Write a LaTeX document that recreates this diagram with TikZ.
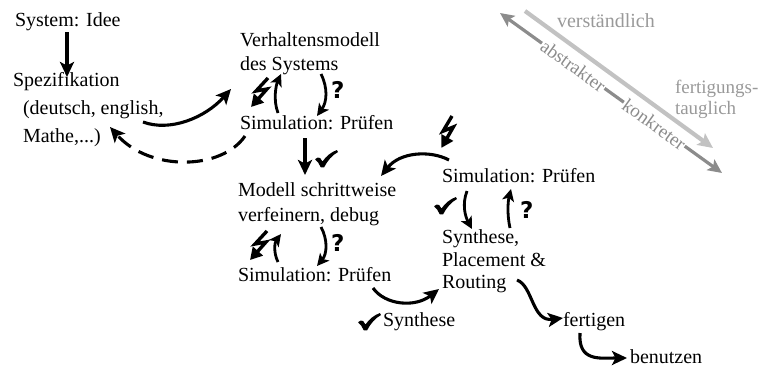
\documentclass[tikz,border=0pt]{standalone}
\usepackage{fontspec}
\setmainfont{Liberation Serif}
\newfontfamily\qfont{DejaVu Sans}
\usetikzlibrary{arrows.meta}
\definecolor{lightarr}{gray}{0.76}
\definecolor{darkarr}{gray}{0.55}
\definecolor{softtext}{gray}{0.6}
\begin{document}
\begin{tikzpicture}[x=1pt,y=-1pt,
  lbl/.style={anchor=north west, inner sep=0pt, outer sep=0pt, align=left,
              font=\fontsize{20}{24}\selectfont},
  grey/.style={inner sep=1pt, fill=white, text=darkarr, font=\fontsize{19}{20}\selectfont},
  qmark/.style={anchor=north west, inner sep=0pt, font=\qfont\bfseries\fontsize{23}{23}\selectfont},
  flow/.style={line width=3.1pt, -{Stealth[length=15pt,width=14pt,inset=3.5pt]}},
  small/.style={line width=2.8pt, -{Stealth[length=12pt,width=12pt,inset=3pt]}},
  back/.style={flow, dash pattern=on 16pt off 9pt},
  tick/.pic={\fill[scale=1.15] (0,8) .. controls (2,6.5) and (3,6) .. (4.5,7) -- (6.5,10)
             .. controls (10,5) and (14,2) .. (19,0) -- (20,1.8)
             .. controls (15,4.5) and (11,9) .. (8,15) -- (5,15)
             .. controls (4,12) and (2,10) .. (0,8) -- cycle;},
  bolt/.pic={\draw[line width=3.4pt, line join=miter, miter limit=5,
             -{Triangle[length=12pt,width=13pt]}]
             (0,0) -- (-12,13) -- (-1,11) -- (-17,29);}
]
\useasboundingbox (0,0) rectangle (767,367);

% --- text blocks ---
\node[lbl] (sys)    at (15,13)  {System: Idee};
\node[lbl] (spez)   at (13,72)  {Spezifikation\\[4pt]\hspace*{10pt}(deutsch, english,\\[4pt]\hspace*{10pt}Mathe,...)};
\node[lbl] (verh)   at (240,33) {Verhaltensmodell\\des Systems};
\node[lbl] (simA)   at (240,115) {Simulation: Prüfen};
\node[lbl] (modell) at (238,183) {Modell schrittweise\\[1pt]verfeinern, debug};
\node[lbl] (simB)   at (238,267) {Simulation: Prüfen};
\node[lbl] (simC)   at (442,168) {Simulation: Prüfen};
\node[lbl, font=\fontsize{20}{22.5}\selectfont] (spr) at (442,230) {Synthese,\\Placement \&\\Routing};
\node[lbl] (fert)   at (563,312) {fertigen};
\node[lbl] (ben)    at (630,350) {benutzen};
\node[lbl] (syn)    at (383,313) {Synthese};

% --- question marks and ticks ---
\node[qmark] (qA) at (331,81)  {?};
\node[qmark] (qB) at (331,234) {?};
\node[qmark] (qC) at (520,201) {?};
\pic (tA) at (315,150) {tick};
\pic (tB) at (434,197) {tick};
\pic (tC) at (358,313) {tick};

% --- failure bolts ---
\pic (bA) at (268,78)  {bolt};
\pic (bB) at (267,231) {bolt};
\pic[rotate=12] (bC) at (452,116) {bolt};

% --- connectors ---
\coordinate (sysS)  at (67,32);
\coordinate (spezN) at (67,77);
\draw[flow] (sysS) -- (spezN);

\coordinate (spezE) at (143,122);
\coordinate (verhW) at (231,89);
\draw[flow] (spezE) .. controls (170,132) and (205,118) .. (verhW);

\coordinate (simAW) at (245,136);
\coordinate (spezSE) at (110,127);
\draw[back] (simAW) .. controls (222,170) and (150,172) .. (spezSE);

\coordinate (simAup) at (278,113);
\coordinate (verhS)  at (281,74);
\draw[small] (simAup) .. controls (273,100) and (276,85) .. (verhS);
\coordinate (verhdn) at (321,74);
\coordinate (simAN)  at (317,116);
\draw[small] (verhdn) .. controls (328,88) and (327,102) .. (simAN);

\coordinate (simAS)  at (305,138);
\coordinate (modN)   at (305,175);
\draw[flow] (simAS) -- (modN);

\coordinate (simCW)  at (449,160);
\coordinate (modNE)  at (381,176);
\draw[flow] (simCW) .. controls (430,150) and (400,152) .. (modNE);

\coordinate (simBup) at (278,262);
\coordinate (modS)   at (281,234);
\draw[small] (simBup) .. controls (273,252) and (275,242) .. (modS);
\coordinate (moddn)  at (321,227);
\coordinate (simBN)  at (317,266);
\draw[small] (moddn) .. controls (328,240) and (327,254) .. (simBN);

\coordinate (simBE)  at (373,288);
\coordinate (sprW)   at (439,289);
\draw[flow] (simBE) .. controls (385,305) and (415,308) .. (sprW);

\coordinate (simCdn) at (467,191);
\coordinate (sprN)   at (472,229);
\draw[small] (simCdn) .. controls (462,204) and (465,216) .. (sprN);
\coordinate (sprup)  at (510,228);
\coordinate (simCS)  at (511,189);
\draw[small] (sprup) .. controls (507,215) and (508,201) .. (simCS);

\coordinate (sprE)   at (517,280);
\coordinate (fertW)  at (563,318);
\draw[flow] (sprE) .. controls (533,286) and (532,322) .. (fertW);

\coordinate (fertS)  at (580,333);
\coordinate (benW)   at (627,358);
\draw[flow] (fertS) .. controls (578,362) and (600,358) .. (benW);

% --- abstraction scale: abstract <-> concrete, understandable -> manufacturable ---
\coordinate (absA) at (500,13);
\coordinate (absB) at (722,173);
\draw[line width=3.2pt, darkarr,
      {Stealth[length=14pt,width=13pt,inset=3pt]}-{Stealth[length=14pt,width=13pt,inset=3pt]}]
  (absA) -- node[grey, pos=0.33, sloped] (abs) {abstrakter}
            node[grey, pos=0.695, sloped] (kon) {konkreter} (absB);
\coordinate (undA) at (525,11);
\coordinate (undB) at (713,148);
\draw[line width=4.2pt, lightarr, -{Stealth[length=15pt,width=14pt,inset=3pt]}] (undA) -- (undB);
\node[lbl, text=softtext] (verst) at (557,14) {verständlich};
\node[lbl, text=softtext, font=\fontsize{19}{21}\selectfont] (ftaug) at (675,80) {fertigungs-\\tauglich};
\end{tikzpicture}
\end{document}
